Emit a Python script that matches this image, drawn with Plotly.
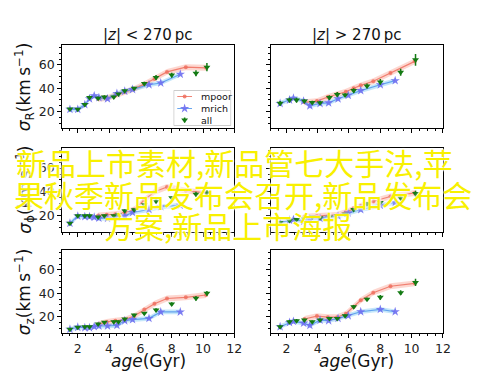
import plotly.graph_objects as go

# ---------------- data ----------------
# "all" sample (green triangles with error bars)
age_all_left = [1.5, 2.0, 2.45, 2.75, 3.3, 3.7, 4.3, 4.6, 5.0, 5.6, 6.25, 7.0, 8.0, 9.55, 10.25]
age_all_right = [1.6, 2.2, 2.65, 3.15, 3.65, 4.15, 4.75, 5.25, 5.75, 6.3, 7.15, 8.0, 9.3, 10.25]

sigR_all_lo = [22.2, 22.0, 26.0, 32.0, 31.5, 32.5, 32.5, 35.0, 37.8, 40.0, 44.0, 49.3, 51.3, 52.8, 58.0]
sigP_all_lo = [13.4, 19.7, 19.7, 19.7, 18.6, 19.7, 19.7, 20.5, 24.0, 24.8, 29.0, 32.0, 35.0, 38.0, 39.0]
sigZ_all_lo = [9.2, 10.9, 11.4, 11.4, 13.7, 15.1, 15.7, 15.7, 18.0, 21.4, 22.8, 25.7, 30.8, 35.7, 40.0]
sigR_all_hi = [27.1, 29.9, 29.9, 29.0, 27.9, 27.7, 32.0, 34.7, 34.2, 38.0, 42.0, 45.4, 53.6, 64.3]
sigP_all_hi = [14.0, 15.7, 16.5, 16.9, 18.6, 18.0, 18.6, 19.7, 21.0, 25.0, 29.9, 31.0, 34.8, 38.5]
sigZ_all_hi = [11.4, 15.7, 16.5, 17.1, 15.7, 17.1, 18.5, 18.5, 20.8, 28.5, 34.8, 36.5, 40.5, 49.3]

errR_all_lo = [1.0, 1.0, 1.5, 1.5, 1.5, 1.5, 1.0, 1.0, 1.0, 1.0, 1.5, 2.0, 2.0, 2.5, 3.5]
errP_all_lo = [1.0, 1.0, 1.0, 1.0, 1.0, 1.0, 1.0, 1.0, 1.0, 1.0, 1.0, 1.5, 1.5, 2.0, 2.5]
errZ_all_lo = [1.0, 1.0, 1.0, 1.0, 1.0, 1.0, 1.0, 1.0, 1.0, 1.0, 1.0, 1.5, 1.5, 2.0, 2.0]
errR_all_hi = [2.0, 2.0, 2.0, 1.5, 1.5, 1.5, 2.0, 2.0, 1.5, 2.0, 2.0, 2.5, 3.0, 5.0]
errP_all_hi = [1.0, 1.0, 1.0, 1.0, 1.0, 1.0, 1.0, 1.0, 1.0, 1.0, 1.5, 1.5, 2.0, 2.5]
errZ_all_hi = [1.5, 1.5, 1.5, 1.0, 1.0, 1.0, 1.0, 1.0, 1.0, 1.5, 1.5, 2.0, 2.0, 3.0]

# metal-poor sample (red)
age_mpoor_left = [3.3, 3.85, 4.4, 5.0, 5.6, 6.25, 6.9, 7.7, 8.9, 10.2]
age_mpoor_right = [3.15, 3.95, 4.65, 5.25, 5.8, 6.3, 6.75, 7.55, 8.65, 10.2]
sigR_mpoor_lo = [31.0, 31.5, 34.0, 37.0, 39.5, 43.5, 48.0, 54.0, 58.0, 57.5]
sigP_mpoor_lo = [20.0, 20.5, 21.0, 22.5, 25.0, 33.0, 40.0, 44.0, 41.0, 39.0]
sigZ_mpoor_lo = [13.5, 15.5, 16.5, 17.5, 20.5, 26.0, 31.0, 35.5, 36.5, 38.5]
sigR_mpoor_hi = [28.0, 29.0, 32.5, 35.0, 37.0, 40.0, 42.5, 46.0, 53.0, 63.0]
sigP_mpoor_hi = [19.0, 19.5, 19.5, 20.5, 23.0, 26.0, 28.0, 32.0, 36.0, 39.0]
sigZ_mpoor_hi = [18.0, 20.5, 19.5, 19.5, 22.5, 28.5, 34.0, 40.5, 46.0, 48.5]

# metal-rich sample (blue)
age_mrich_left = [1.5, 2.0, 2.45, 2.75, 3.05, 3.35, 3.9, 4.5, 5.0, 5.5, 6.55, 7.3, 8.55]
age_mrich_right = [1.6, 2.2, 2.45, 3.1, 3.5, 4.15, 4.7, 5.3, 5.95, 6.75, 8.0, 8.95]
sigR_mrich_lo = [22.0, 22.0, 26.0, 31.0, 33.5, 32.0, 31.0, 35.5, 37.5, 39.0, 43.0, 44.5, 52.0]
sigP_mrich_lo = [13.4, 19.5, 19.0, 19.0, 18.5, 17.7, 17.5, 18.6, 19.5, 22.5, 25.0, 27.5, 28.5]
sigZ_mrich_lo = [9.2, 10.9, 10.5, 10.5, 11.5, 12.0, 12.0, 12.5, 16.5, 17.5, 18.5, 24.0, 24.0]
sigR_mrich_hi = [27.0, 30.0, 31.5, 29.0, 25.0, 27.0, 27.5, 31.0, 34.0, 38.0, 43.0, 46.5]
sigP_mrich_hi = [14.0, 16.0, 16.5, 15.0, 17.0, 17.5, 18.5, 19.5, 22.0, 25.0, 28.5, 31.0]
sigZ_mrich_hi = [11.4, 15.0, 16.0, 14.5, 12.5, 17.0, 16.5, 18.5, 20.8, 24.2, 26.2, 24.2]

band_mpoor = 2.5
band_mrich = 2.0

series_names = ["mpoor", "mrich", "all"]
panel_titles = ["|<i>z</i>| < 270\u2009pc", "|<i>z</i>| > 270\u2009pc"]
row_labels = ["<i>σ</i><sub>R</sub>(km\u2009s<sup>−1</sup>)",
              "<i>σ</i><sub>ϕ</sub>(km\u2009s<sup>−1</sup>)",
              "<i>σ</i><sub>z</sub>(km\u2009s<sup>−1</sup>)"]
x_label = "<i>age</i>(Gyr)"
x_ticks = [2, 4, 6, 8, 10, 12]
y_ticks = [20, 40, 60]
overlay_lines = ["新品上市素材,新品管七大手法,苹", "果秋季新品发布会召开,新品发布会", "方案,新品上市海报"]

# ---------------- layout geometry (page pixels) ----------------
W, H = 500, 375
OFF = 8  # page body margin offset of the figure
col_px = [(63, 238), (275, 450)]
row_px = [(45, 128), (148, 232), (250, 333)]


def px2x(p):
    return (p - OFF) / W


def px2y(p):
    return 1 - (p - OFF) / H


RED = "rgba(238,112,95,0.85)"
RED_BAND = "rgba(248,140,120,0.35)"
BLUE_LINE = "rgba(80,150,235,0.85)"
BLUE_STAR = "rgba(110,110,240,0.9)"
BLUE_BAND = "rgba(90,185,240,0.35)"
GREEN = "#137a13"

fig = go.Figure()

panels = [
    (0, 0, age_all_left, sigR_all_lo, errR_all_lo, age_mpoor_left, sigR_mpoor_lo, age_mrich_left, sigR_mrich_lo),
    (0, 1, age_all_right, sigR_all_hi, errR_all_hi, age_mpoor_right, sigR_mpoor_hi, age_mrich_right, sigR_mrich_hi),
    (1, 0, age_all_left, sigP_all_lo, errP_all_lo, age_mpoor_left, sigP_mpoor_lo, age_mrich_left, sigP_mrich_lo),
    (1, 1, age_all_right, sigP_all_hi, errP_all_hi, age_mpoor_right, sigP_mpoor_hi, age_mrich_right, sigP_mrich_hi),
    (2, 0, age_all_left, sigZ_all_lo, errZ_all_lo, age_mpoor_left, sigZ_mpoor_lo, age_mrich_left, sigZ_mrich_lo),
    (2, 1, age_all_right, sigZ_all_hi, errZ_all_hi, age_mpoor_right, sigZ_mpoor_hi, age_mrich_right, sigZ_mrich_hi),
]

axis_common = dict(showline=True, linecolor="black", linewidth=1, mirror=True,
                   ticks="outside", ticklen=4, tickcolor="black", showgrid=False,
                   zeroline=False, tickfont=dict(family="DejaVu Sans", size=12.5, color="#222"))

layout_axes = {}
for i, (r, c, xa, ya, ea, xp, yp, xr, yr) in enumerate(panels):
    n = i + 1
    xname = "x" if n == 1 else f"x{n}"
    yname = "y" if n == 1 else f"y{n}"
    fig.add_trace(go.Scatter(x=xp + xp[::-1],
                             y=[v + band_mpoor for v in yp] + [v - band_mpoor for v in yp[::-1]],
                             fill="toself", fillcolor=RED_BAND, line=dict(width=0),
                             mode="lines", hoverinfo="skip", showlegend=False, xaxis=xname, yaxis=yname))
    fig.add_trace(go.Scatter(x=xr + xr[::-1],
                             y=[v + band_mrich for v in yr] + [v - band_mrich for v in yr[::-1]],
                             fill="toself", fillcolor=BLUE_BAND, line=dict(width=0),
                             mode="lines", hoverinfo="skip", showlegend=False, xaxis=xname, yaxis=yname))
    fig.add_trace(go.Scatter(x=xp, y=yp, mode="lines+markers", name=series_names[0],
                             line=dict(color=RED, width=1.2),
                             marker=dict(symbol="circle", size=4, color=RED),
                             showlegend=False, xaxis=xname, yaxis=yname))
    fig.add_trace(go.Scatter(x=xr, y=yr, mode="lines+markers", name=series_names[1],
                             line=dict(color=BLUE_LINE, width=1.2),
                             marker=dict(symbol="star", size=7, color=BLUE_STAR),
                             showlegend=False, xaxis=xname, yaxis=yname))
    fig.add_trace(go.Scatter(x=xa, y=ya, mode="markers", name=series_names[2],
                             marker=dict(symbol="triangle-down", size=6, color=GREEN),
                             error_y=dict(type="data", array=ea, color=GREEN, thickness=1.5, width=0),
                             showlegend=False, xaxis=xname, yaxis=yname))

    x0, x1 = col_px[c]
    y0, y1 = row_px[r]
    xkey = "xaxis" if n == 1 else f"xaxis{n}"
    ykey = "yaxis" if n == 1 else f"yaxis{n}"
    layout_axes[xkey] = dict(axis_common, domain=[px2x(x0), px2x(x1)], anchor=yname, range=[1, 12],
                             tickmode="array", tickvals=x_ticks, showticklabels=(r == 2),
                             minor=dict(dtick=0.5, tick0=0, ticks="outside", ticklen=2,
                                        tickcolor="black", showgrid=False))
    layout_axes[ykey] = dict(axis_common, domain=[px2y(y1), px2y(y0)], anchor=xname, range=[6, 77],
                             tickmode="array", tickvals=y_ticks, showticklabels=(c == 0),
                             minor=dict(dtick=5, tick0=0, ticks="outside", ticklen=2,
                                        tickcolor="black", showgrid=False))

# ---------------- hand-made legend (matplotlib-like, in the first panel) ----------------
leg_box = (176, 90, 235, 126)  # page px: left, top, right, bottom
lw, lh = leg_box[2] - leg_box[0], leg_box[3] - leg_box[1]
layout_axes["xaxis7"] = dict(domain=[px2x(leg_box[0]), px2x(leg_box[2])], range=[0, lw],
                             visible=False, anchor="y7", fixedrange=True)
layout_axes["yaxis7"] = dict(domain=[px2y(leg_box[3]), px2y(leg_box[1])], range=[lh, 0],
                             visible=False, anchor="x7", fixedrange=True)
fig.add_trace(go.Scatter(x=[0.5, lw - 0.5, lw - 0.5, 0.5, 0.5], y=[0.5, 0.5, lh - 0.5, lh - 0.5, 0.5],
                         mode="lines", fill="toself", fillcolor="rgba(255,255,255,0.85)",
                         line=dict(color="#cccccc", width=1), hoverinfo="skip", showlegend=False,
                         xaxis="x7", yaxis="y7"))
leg_rows = [6.5, 18.5, 30]
fig.add_trace(go.Scatter(x=[4, 19], y=[leg_rows[0]] * 2, mode="lines", line=dict(color=RED, width=1.2),
                         hoverinfo="skip", showlegend=False, xaxis="x7", yaxis="y7"))
fig.add_trace(go.Scatter(x=[11.5], y=[leg_rows[0]], mode="markers", marker=dict(symbol="circle", size=4, color=RED),
                         hoverinfo="skip", showlegend=False, xaxis="x7", yaxis="y7"))
fig.add_trace(go.Scatter(x=[4, 19], y=[leg_rows[1]] * 2, mode="lines", line=dict(color=BLUE_LINE, width=1.2),
                         hoverinfo="skip", showlegend=False, xaxis="x7", yaxis="y7"))
fig.add_trace(go.Scatter(x=[11.5], y=[leg_rows[1]], mode="markers", marker=dict(symbol="star", size=7, color=BLUE_STAR),
                         hoverinfo="skip", showlegend=False, xaxis="x7", yaxis="y7"))
fig.add_trace(go.Scatter(x=[11.5], y=[leg_rows[2]], mode="markers",
                         marker=dict(symbol="triangle-down", size=6, color=GREEN),
                         error_y=dict(type="constant", value=2.5, color=GREEN, thickness=1.5, width=0),
                         hoverinfo="skip", showlegend=False, xaxis="x7", yaxis="y7"))

annotations = []
for name, yy in zip(series_names, leg_rows):
    annotations.append(dict(text=name, x=26, y=yy, xref="x7", yref="y7", showarrow=False,
                            xanchor="left", yanchor="middle",
                            font=dict(family="DejaVu Sans", size=9.5, color="#111")))

for c in range(2):
    xc = px2x((col_px[c][0] + col_px[c][1]) / 2)
    annotations.append(dict(text=panel_titles[c], x=xc, y=px2y(35), xref="paper", yref="paper",
                            showarrow=False, xanchor="center", yanchor="middle",
                            font=dict(family="DejaVu Sans", size=15, color="#111")))
    annotations.append(dict(text=x_label, x=xc, y=px2y(361), xref="paper", yref="paper",
                            showarrow=False, xanchor="center", yanchor="middle",
                            font=dict(family="DejaVu Sans", size=17, color="#111")))
for r in range(3):
    yc = px2y((row_px[r][0] + row_px[r][1]) / 2)
    annotations.append(dict(text=row_labels[r], x=px2x(25), y=yc, xref="paper", yref="paper",
                            showarrow=False, xanchor="center", yanchor="middle", textangle=-90,
                            font=dict(family="DejaVu Sans", size=17, color="#111")))

overlay_pos = [(238, 162), (247, 194), (232, 225)]
for txt, (px, py) in zip(overlay_lines, overlay_pos):
    annotations.append(dict(text=txt, x=px2x(px), y=px2y(py), xref="paper", yref="paper",
                            showarrow=False, xanchor="center", yanchor="middle",
                            font=dict(family="Noto Sans CJK SC", size=30, color="#F8F000",
                                      shadow="0 0 2px white, 0 0 2px white, 0 0 3px white")))

fig.update_layout(
    width=W, height=H, margin=dict(l=0, r=0, t=0, b=0),
    paper_bgcolor="white", plot_bgcolor="white",
    annotations=annotations, showlegend=False,
    **layout_axes,
)

fig.write_html("out.html")
